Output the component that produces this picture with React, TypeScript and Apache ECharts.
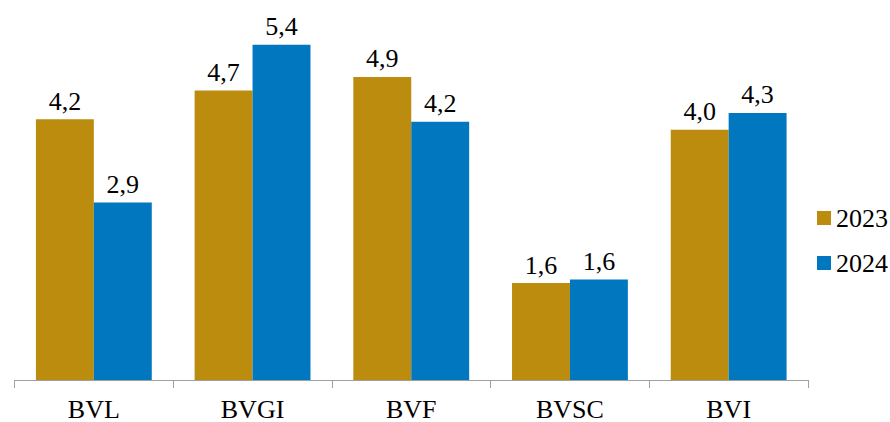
import React, { useEffect, useRef } from "react";
import * as echarts from "echarts";

const categories = ["BVL", "BVGI", "BVF", "BVSC", "BVI"];
const seriesNames = ["2023", "2024"];
const values2023 = [4.2, 4.66, 4.88, 1.56, 4.03];
const values2024 = [2.86, 5.4, 4.16, 1.62, 4.3];
const colors = ["#BC8C0E", "#0077BF"];

const FONT = "Liberation Serif";

export default function App() {
  const ref = useRef<HTMLDivElement>(null);
  useEffect(() => {
    const chart = echarts.init(ref.current!, null, { renderer: "svg" });
    const fmt = (p: any) => Number(p.value).toFixed(1).replace(".", ",");
    const mkSeries = (name: string, data: number[], color: string) => ({
      name,
      type: "bar",
      data,
      barGap: "0%",
      barCategoryGap: "27%",
      itemStyle: { color },
      label: {
        show: true,
        position: "top",
        distance: 5,
        formatter: fmt,
        fontFamily: FONT,
        fontSize: 26,
        color: "#000",
      },
    });
    chart.setOption({
      animation: false,
      textStyle: { fontFamily: FONT },
      grid: { left: 14.5, right: 82, top: 7.4, bottom: 42, containLabel: false },
      legend: {
        orient: "vertical",
        left: 817,
        top: 205,
        padding: 0,
        itemWidth: 14,
        itemHeight: 14,
        itemGap: 19,
        icon: "rect",
        textStyle: { fontFamily: FONT, fontSize: 26, color: "#000" },
        data: seriesNames,
      },
      xAxis: {
        type: "category",
        data: categories,
        axisLine: { lineStyle: { color: "#A0A0A0", width: 1 } },
        axisTick: { show: true, length: 8, lineStyle: { color: "#A0A0A0" } },
        axisLabel: { fontFamily: FONT, fontSize: 26, color: "#000", margin: 16 },
      },
      yAxis: {
        type: "value",
        min: 0,
        max: 6,
        show: false,
        splitLine: { show: false },
      },
      series: [
        mkSeries(seriesNames[0], values2023, colors[0]),
        mkSeries(seriesNames[1], values2024, colors[1]),
      ],
    });
    return () => chart.dispose();
  }, []);
  return (
    <div
      ref={ref}
      style={{ position: "absolute", left: 0, top: 0, width: 890, height: 422, background: "#fff" }}
    />
  );
}
